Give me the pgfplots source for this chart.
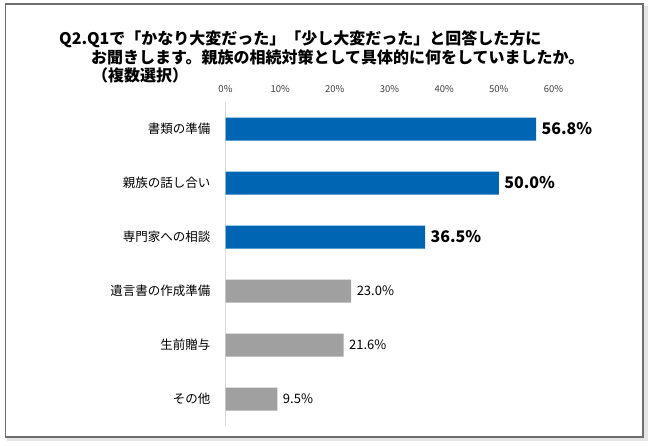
\documentclass[border=0pt]{standalone}
\usepackage{pgfplots}
\pgfplotsset{compat=1.18}
\usepackage{fontspec}
\setmainfont{Noto Sans CJK JP}
\definecolor{barblue}{RGB}{0,102,179}
\definecolor{bargray}{RGB}{160,160,160}
\definecolor{framegray}{RGB}{110,110,110}
\definecolor{axgray}{RGB}{217,217,217}
\definecolor{tickgray}{RGB}{64,64,64}
\begin{document}
\begin{tikzpicture}[x=1pt,y=1pt]
\useasboundingbox (0,0) rectangle (650,445);
\fill[white] (0,0) rectangle (650,445);
\fill[black!10] (643,6) rectangle (648,439);
\fill[black!10] (7,4) rectangle (648,8);
\draw[framegray, line width=1.5pt] (5.5,8) rectangle (643,441);
\node[anchor=west, inner sep=0pt, font=\fontsize{16}{16}\selectfont\bfseries] at (59,406) {Q2.Q1で「かなり大変だった」「少し大変だった」と回答した方に};
\node[anchor=west, inner sep=0pt, font=\fontsize{16}{16}\selectfont\bfseries] at (91,388) {お聞きします。親族の相続対策として具体的に何をしていましたか。};
\node[anchor=west, inner sep=0pt, font=\fontsize{16}{16}\selectfont\bfseries] at (92,370) {（複数選択）};
\begin{axis}[
  at={(225.5pt,19pt)}, anchor=south west,
  scale only axis, width=328pt, height=324pt,
  xmin=0, xmax=60, ymin=-0.5, ymax=5.5,
  xbar, bar width=23pt, bar shift=0pt,
  axis x line*=top, axis y line*=left,
  x axis line style={draw=none},
  y axis line style={draw=axgray, line width=0.8pt},
  major tick length=0pt,
  xtick={0,10,20,30,40,50,60},
  xticklabel={\pgfmathprintnumber{\tick}\%},
  xticklabel style={font=\fontsize{9.5}{9.5}\selectfont, text=tickgray, inner sep=0pt, anchor=south, yshift=9pt},
  ytick={0,1,2,3,4,5},
  yticklabels={その他, 生前贈与, 遺言書の作成準備, 専門家への相談, 親族の話し合い, 書類の準備},
  yticklabel style={font=\fontsize{12.5}{12.5}\selectfont, inner sep=0pt, anchor=east, xshift=-15pt},
  /pgf/number format/assume math mode=true,
  point meta=x,
  nodes near coords={\pgfmathprintnumber[fixed,fixed zerofill,precision=1,assume math mode=true]{\pgfplotspointmeta}\%},
  clip=false,
]
\addplot[fill=barblue, draw=none, every node near coord/.append style={font=\fontsize{16}{16}\selectfont\bfseries, anchor=west, xshift=2pt}]
  coordinates {(56.8,5) (50.0,4) (36.5,3)};
\addplot[fill=bargray, draw=none, every node near coord/.append style={font=\fontsize{13}{13}\selectfont, anchor=west, xshift=2pt}]
  coordinates {(23.0,2) (21.6,1) (9.5,0)};
\end{axis}
\end{tikzpicture}
\end{document}
